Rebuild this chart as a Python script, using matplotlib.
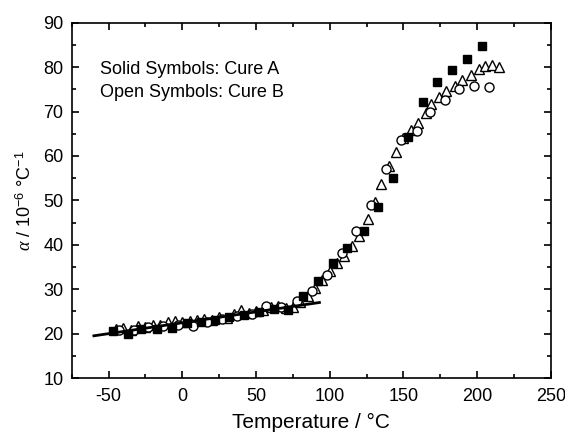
import matplotlib
matplotlib.use("Agg")
import matplotlib.pyplot as plt
from matplotlib.ticker import MultipleLocator

plt.rcParams['font.family'] = ['Liberation Sans', 'DejaVu Sans']
plt.rcParams['mathtext.fontset'] = 'custom'
plt.rcParams['mathtext.rm'] = 'Liberation Sans'
plt.rcParams['mathtext.it'] = 'Liberation Serif:italic'
plt.rcParams['axes.unicode_minus'] = False

# Cure A (solid squares)
temp_a = [-47, -37, -28, -17, -7, 3, 13, 22, 32, 42, 52, 62, 72, 82, 92,
          102, 112, 123, 133, 143, 153, 163, 173, 183, 193, 203]
alpha_a = [20.5, 19.8, 21.0, 21.0, 21.3, 22.3, 22.5, 23.0, 23.8, 24.2, 24.8, 25.6, 25.3, 28.5, 31.8,
           36.0, 39.3, 43.2, 48.5, 55.0, 64.3, 72.2, 76.6, 79.3, 81.8, 84.8]

# Cure B (open circles)
temp_b1 = [-43, -33, -23, -13, -3, 7, 17, 27, 37, 47, 57, 67, 78, 88, 98,
           108, 118, 128, 138, 148, 159, 168, 178, 188, 198, 208]
alpha_b1 = [20.8, 20.7, 21.5, 21.8, 22.0, 21.8, 22.6, 23.2, 24.0, 24.3, 26.2, 25.9, 27.4, 29.6, 33.3,
            38.2, 43.0, 49.0, 57.1, 63.5, 65.5, 70.0, 72.7, 75.1, 75.8, 75.6]

# Cure B (open triangles)
temp_b2 = [-45, -40, -35, -30, -25, -20, -15, -10, -5, 0, 5, 10, 15, 20, 25, 30, 35, 40, 45, 50,
           55, 60, 65, 70, 75, 80, 85, 90, 95, 100, 105, 110, 115, 120, 126, 131, 135, 140, 145, 150,
           155, 160, 165, 169, 174, 179, 185, 190, 196, 201, 205, 210, 215]
alpha_b2 = [21.0, 21.2, 20.8, 21.6, 21.5, 21.9, 22.0, 22.5, 22.8, 22.6, 22.9, 23.0, 23.3, 23.0, 23.7,
            23.6, 24.3, 25.3, 24.6, 25.0, 25.3, 26.0, 26.2, 25.8, 26.0, 27.2, 28.5, 30.2, 32.0, 34.0,
            35.8, 37.5, 39.8, 42.0, 45.7, 49.6, 53.7, 57.8, 60.9, 64.0, 65.8, 67.5, 69.7, 71.6, 73.3,
            74.6, 75.7, 77.0, 78.3, 79.6, 80.2, 80.4, 80.0]

# linear fit of the glassy region
fit_t = [-60, 93]
fit_a = [19.5, 27.0]

fig = plt.figure(figsize=(5.65, 4.36), dpi=100)
ax = fig.add_axes([0.127, 0.133, 0.848, 0.815])

ax.plot(temp_b2, alpha_b2, linestyle='none', marker='^', markersize=7,
        markerfacecolor='white', markeredgecolor='black', markeredgewidth=1, zorder=2)
ax.plot(temp_b1, alpha_b1, linestyle='none', marker='o', markersize=6.5,
        markerfacecolor='white', markeredgecolor='black', markeredgewidth=1, zorder=3)
ax.plot(temp_a, alpha_a, linestyle='none', marker='s', markersize=5.5,
        color='black', zorder=4)
ax.plot(fit_t, fit_a, color='black', linewidth=2, zorder=5)

ax.set_xlim(-75, 250)
ax.set_ylim(10, 90)
ax.xaxis.set_major_locator(MultipleLocator(50))
ax.xaxis.set_minor_locator(MultipleLocator(25))
ax.yaxis.set_major_locator(MultipleLocator(10))
ax.yaxis.set_minor_locator(MultipleLocator(5))
ax.tick_params(which='both', direction='in', top=True, right=True, width=1.2, labelsize=13)
ax.tick_params(which='major', length=5)
ax.tick_params(which='minor', length=3)
ax.tick_params(axis='x', pad=7)
ax.tick_params(axis='y', pad=6)
for s in ax.spines.values():
    s.set_linewidth(1.2)

ax.text(-56, 79.4, 'Solid Symbols: Cure A', fontsize=13, va='center')
ax.text(-56, 74.2, 'Open Symbols: Cure B', fontsize=13, va='center')

ax.set_xlabel('Temperature / °C', fontsize=15, labelpad=6)
ax.set_ylabel(r'$\alpha$ / 10$^{-6}$ °C$^{-1}$', fontsize=13, labelpad=6)

fig.savefig('out.png', dpi=100)
